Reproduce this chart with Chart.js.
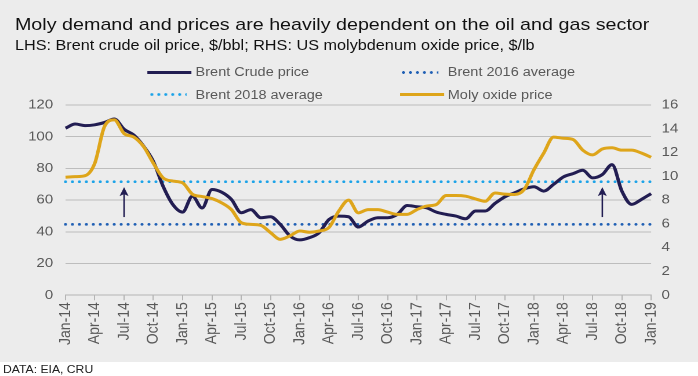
<!DOCTYPE html>
<html>
<head>
<meta charset="utf-8">
<script src="https://cdn.jsdelivr.net/npm/chart.js@4.4.1/dist/chart.umd.min.js"></script>
<style>
  html, body { margin: 0; padding: 0; background: #fff; }
  /* the source picture is stretched sideways, so the whole layout is drawn narrow and scaled */
  #wrap { position: absolute; left: 0; top: 0; width: 602px; height: 376px; transform: scaleX(1.1595); transform-origin: 0 0; font-family: "Liberation Sans", Arial, sans-serif; }
  #panel { position: absolute; left: 0; top: 0; width: 602px; height: 362px; background: #ececec; }
  #chart { position: absolute; left: 0; top: 0; }
  .t { position: absolute; white-space: nowrap; }
  #title { left: 12.9px; top: 16.3px; font-size: 17px; line-height: 17px; color: #111; }
  #subtitle { left: 12.9px; top: 38.2px; font-size: 14px; line-height: 14px; color: #111; }
  .lg { font-size: 12.5px; line-height: 12.5px; color: #595959; }
  .mk { position: absolute; height: 3px; }
  .solid-navy { background: #221d52; }
  .solid-gold { background: #dea51a; }
  .dots-dark { background: radial-gradient(circle, #1f5fb4 1.1px, transparent 1.5px) 0 0 / 6px 3px repeat-x; }
  .dots-light { background: radial-gradient(circle, #1ca3e8 1.1px, transparent 1.5px) 0 0 / 6px 3px repeat-x; }
  #source { left: 2.6px; top: 364.4px; font-size: 10.5px; line-height: 10.5px; color: #222; }
</style>
</head>
<body>
<div id="wrap">
  <div id="panel"></div>
  <canvas id="chart" width="602" height="362"></canvas>
  <div class="t" id="title">Moly demand and prices are heavily dependent on the oil and gas sector</div>
  <div class="t" id="subtitle">LHS: Brent crude oil price, $/bbl; RHS: US molybdenum oxide price, $/lb</div>

  <div class="mk solid-navy" style="left:126.7px; top:70.7px; width:38.8px;"></div>
  <div class="t lg" style="left:168.7px; top:66.1px;">Brent Crude price</div>
  <div class="mk dots-dark" style="left:345.4px; top:70.7px; width:33px;"></div>
  <div class="t lg" style="left:386.2px; top:66.1px;">Brent 2016 average</div>
  <div class="mk dots-light" style="left:127.5px; top:93.3px; width:33px;"></div>
  <div class="t lg" style="left:168.7px; top:88.7px;">Brent 2018 average</div>
  <div class="mk solid-gold" style="left:345.4px; top:93.3px; width:38px;"></div>
  <div class="t lg" style="left:386.2px; top:88.7px;">Moly oxide price</div>

  <div class="t" id="source">DATA: EIA, CRU</div>
</div>
<script>
const months = [
    'Jan-14', 'Feb-14', 'Mar-14', 'Apr-14', 'May-14', 'Jun-14', 'Jul-14', 'Aug-14', 'Sep-14', 'Oct-14', 'Nov-14', 'Dec-14',
    'Jan-15', 'Feb-15', 'Mar-15', 'Apr-15', 'May-15', 'Jun-15', 'Jul-15', 'Aug-15', 'Sep-15', 'Oct-15', 'Nov-15', 'Dec-15',
    'Jan-16', 'Feb-16', 'Mar-16', 'Apr-16', 'May-16', 'Jun-16', 'Jul-16', 'Aug-16', 'Sep-16', 'Oct-16', 'Nov-16', 'Dec-16',
    'Jan-17', 'Feb-17', 'Mar-17', 'Apr-17', 'May-17', 'Jun-17', 'Jul-17', 'Aug-17', 'Sep-17', 'Oct-17', 'Nov-17', 'Dec-17',
    'Jan-18', 'Feb-18', 'Mar-18', 'Apr-18', 'May-18', 'Jun-18', 'Jul-18', 'Aug-18', 'Sep-18', 'Oct-18', 'Nov-18', 'Dec-18',
    'Jan-19'
];

// LHS, $/bbl
const brentCrude = [
    105.4, 108, 107, 107.5, 109, 111.2, 104.7, 101, 94, 84.4, 68.7, 57.2,
    52.4, 62.5, 55, 66.7, 65, 60.4, 52, 54, 48.9, 49.5, 44.7, 37.4,
    34.9, 36.3, 39.5, 47.8, 49.9, 49.5, 43, 46.8, 48.9, 48.9, 51, 56.6,
    55.8, 55.1, 52.4, 51, 49.9, 48.2, 53.1, 53.1, 57.9, 62, 64.6, 67.1,
    68.4, 65.7, 69.9, 74.6, 76.7, 78.8, 74, 76.1, 82.4, 65.7, 57.3, 60.4,
    64.1
];

// RHS, $/lb
const molyOxide = [
    9.92, 9.97, 10.05, 11.1, 14.2, 14.75, 13.6, 13.3, 12.5, 11.1, 9.87, 9.6,
    9.45, 8.5, 8.3, 8.13, 7.77, 7.2, 6.1, 5.96, 5.88, 5.27, 4.7, 4.99,
    5.4, 5.3, 5.4, 5.7, 7.08, 8.0, 6.93, 7.2, 7.2, 6.99, 6.8, 6.8,
    7.2, 7.5, 7.63, 8.39, 8.39, 8.33, 8.1, 7.9, 8.6, 8.5, 8.47, 8.9,
    10.56, 11.96, 13.3, 13.2, 13.1, 12.2, 11.8, 12.3, 12.4, 12.2, 12.2, 11.96,
    11.6
];

const brent2016Avg = 44.7;
const brent2018Avg = 71.6;

const arrowMonths = ['Jul-14', 'Aug-18'];
const arrowBase = 49.3;
const arrowTip = 68.2;

const navy = '#221d52';
const gold = '#dea51a';
const axisGrey = '#595959';

const arrowPlugin = {
    id: 'arrows',
    afterDatasetsDraw(chart) {
        const { ctx, scales: { x, y } } = chart;
        ctx.save();
        ctx.strokeStyle = navy;
        ctx.fillStyle = navy;
        ctx.lineWidth = 1.3;
        arrowMonths.forEach(m => {
            const px = x.getPixelForValue(months.indexOf(m));
            const top = y.getPixelForValue(arrowTip);
            const bottom = y.getPixelForValue(arrowBase);
            ctx.beginPath();
            ctx.moveTo(px, bottom);
            ctx.lineTo(px, top + 6);
            ctx.stroke();
            ctx.beginPath();
            ctx.moveTo(px, top);
            ctx.lineTo(px - 3.9, top + 9);
            ctx.lineTo(px, top + 7);
            ctx.lineTo(px + 3.9, top + 9);
            ctx.closePath();
            ctx.fill();
        });
        ctx.restore();
    }
};

function flatLine(value) {
    return [{ x: months[0], y: value }, { x: months[months.length - 1], y: value }];
}

Chart.defaults.font.family = '"Liberation Sans", Arial, sans-serif';

const chart = new Chart(document.getElementById('chart'), {
    type: 'line',
    data: {
        labels: months,
        datasets: [
            { label: 'Moly oxide price', data: molyOxide, yAxisID: 'y2', borderColor: gold, borderWidth: 3, pointRadius: 0, cubicInterpolationMode: 'monotone', order: 0 },
            { label: 'Brent Crude price', data: brentCrude, yAxisID: 'y', borderColor: navy, borderWidth: 3, pointRadius: 0, cubicInterpolationMode: 'monotone', order: 1 },
            { label: 'Brent 2018 average', data: flatLine(brent2018Avg), yAxisID: 'y', borderColor: '#1ca3e8', borderWidth: 2.6, borderDash: [0, 6], borderCapStyle: 'round', pointRadius: 0, order: 2 },
            { label: 'Brent 2016 average', data: flatLine(brent2016Avg), yAxisID: 'y', borderColor: '#1f5fb4', borderWidth: 2.6, borderDash: [0, 6], borderCapStyle: 'round', pointRadius: 0, order: 3 }
        ]
    },
    options: {
        responsive: false,
        animation: false,
        devicePixelRatio: 2,
        layout: { padding: { left: 13.6, right: 8, top: 105, bottom: 15 } },
        plugins: { legend: { display: false }, tooltip: { enabled: false } },
        scales: {
            x: {
                grid: { drawOnChartArea: false, tickLength: 5, color: '#b5b5b5' },
                border: { color: '#b5b5b5' },
                ticks: {
                    autoSkip: false, minRotation: 90, maxRotation: 90, padding: 2,
                    color: axisGrey, font: { size: 14 },
                    callback: function (val, i) { return i % 3 === 0 ? this.getLabelForValue(val) : null; }
                }
            },
            y: {
                position: 'left', min: 0, max: 120,
                ticks: { stepSize: 20, padding: 10.6, color: axisGrey, font: { size: 13 } },
                grid: { color: '#bdbdbd', drawTicks: false },
                border: { display: false }
            },
            y2: {
                position: 'right', min: 0, max: 16,
                ticks: { stepSize: 2, padding: 9, color: axisGrey, font: { size: 13 } },
                grid: { drawOnChartArea: false, drawTicks: false },
                border: { display: false }
            }
        }
    },
    plugins: [arrowPlugin]
});
</script>
</body>
</html>
